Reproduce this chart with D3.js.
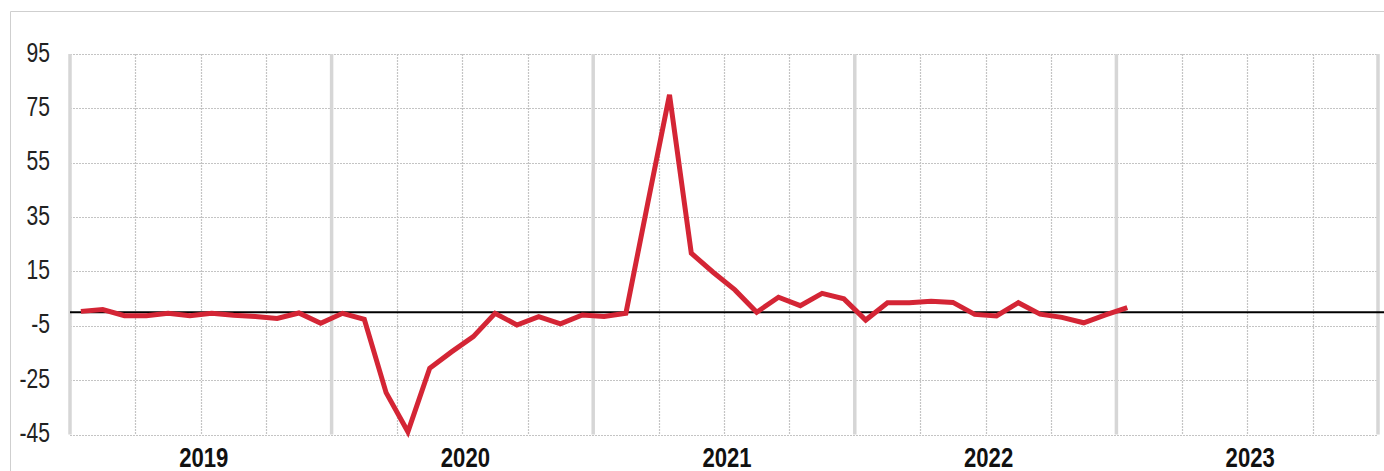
<!DOCTYPE html>
<html>
<head>
<meta charset="utf-8">
<script src="https://cdn.jsdelivr.net/npm/d3@7"></script>
<style>
  html, body { margin: 0; padding: 0; background: #fff; }
  svg { display: block; font-family: "Liberation Sans", Arial, sans-serif; }
</style>
</head>
<body>
<svg id="chart" width="1384" height="471"></svg>
<script>
// monthly observations, Jan 2019 .. Jan 2023
const months = [
  '2019-01', '2019-02', '2019-03', '2019-04', '2019-05', '2019-06',
  '2019-07', '2019-08', '2019-09', '2019-10', '2019-11', '2019-12',
  '2020-01', '2020-02', '2020-03', '2020-04', '2020-05', '2020-06',
  '2020-07', '2020-08', '2020-09', '2020-10', '2020-11', '2020-12',
  '2021-01', '2021-02', '2021-03', '2021-04', '2021-05', '2021-06',
  '2021-07', '2021-08', '2021-09', '2021-10', '2021-11', '2021-12',
  '2022-01', '2022-02', '2022-03', '2022-04', '2022-05', '2022-06',
  '2022-07', '2022-08', '2022-09', '2022-10', '2022-11', '2022-12',
  '2023-01',
];
const values = [
  0.3, 1.0, -1.3, -1.3, -0.4, -1.3, -0.4, -1.1, -1.6, -2.3, -0.3, -4.1,
  -0.4, -2.6, -29.6, -44, -20.6, -14.6, -9.0, -0.4, -4.7, -1.6, -4.3, -1.0,
  -1.6, -0.4, 40, 80, 21.7, 14.7, 8.2, 0, 5.5, 2.4, 6.9, 4.9,
  -2.9, 3.5, 3.5, 4.0, 3.6, -0.8, -1.4, 3.5, -0.7, -1.9, -3.9, -1.0,
  1.7,
];
const years = ['2019', '2020', '2021', '2022', '2023'];
const yTicks = [95, 75, 55, 35, 15, -5, -25, -45];

const W = 1384, H = 471;
const plot = { left: 70, right: 1378, top: 54, bottom: 434.5 };

const svg = d3.select('#chart');

// outer frame (only top and left edges are inside the picture)
svg.append('path')
  .attr('d', `M10.5,${H} V11.5 H${W}`)
  .attr('fill', 'none')
  .attr('stroke', '#cfcfcf')
  .attr('stroke-width', 1);

const monthIndex = (m) => {
  const [yr, mo] = m.split('-').map(Number);
  return (yr - +years[0]) * 12 + (mo - 1);
};

const x = d3.scaleLinear()
  .domain([0, years.length * 12])
  .range([plot.left, plot.right]);

const y = d3.scaleLinear()
  .domain([d3.min(yTicks), d3.max(yTicks)])
  .range([plot.bottom, plot.top]);

const grid = svg.append('g');

// horizontal grid
grid.selectAll('line.h')
  .data(yTicks)
  .join('line')
  .attr('class', 'h')
  .attr('x1', plot.left)
  .attr('x2', plot.right)
  .attr('y1', (d) => Math.round(y(d)) + 0.5)
  .attr('y2', (d) => Math.round(y(d)) + 0.5)
  .attr('stroke', '#c4c4c4')
  .attr('stroke-width', 1.2)
  .attr('stroke-dasharray', '2,1');

// quarter lines
const quarters = d3.range(0, years.length * 12 + 1, 3).filter((q) => q % 12 !== 0);
grid.selectAll('line.q')
  .data(quarters)
  .join('line')
  .attr('class', 'q')
  .attr('x1', (d) => Math.round(x(d)) + 0.5)
  .attr('x2', (d) => Math.round(x(d)) + 0.5)
  .attr('y1', plot.top)
  .attr('y2', plot.bottom)
  .attr('stroke', '#c4c4c4')
  .attr('stroke-width', 1.2)
  .attr('stroke-dasharray', '2,1');

// year separators
grid.selectAll('line.yr')
  .data(d3.range(0, years.length + 1))
  .join('line')
  .attr('class', 'yr')
  .attr('x1', (d) => x(d * 12))
  .attr('x2', (d) => x(d * 12))
  .attr('y1', plot.top)
  .attr('y2', plot.bottom)
  .attr('stroke', '#d6d6d6')
  .attr('stroke-width', 3.5);

// zero line
svg.append('line')
  .attr('x1', plot.left)
  .attr('x2', W)
  .attr('y1', y(0))
  .attr('y2', y(0))
  .attr('stroke', '#000')
  .attr('stroke-width', 2);

// series
const line = d3.line()
  .x((d) => x(monthIndex(d.m) + 0.5))
  .y((d) => y(d.v));

svg.append('path')
  .datum(months.map((m, i) => ({ m, v: values[i] })))
  .attr('d', line)
  .attr('fill', 'none')
  .attr('stroke', '#d42535')
  .attr('stroke-width', 5)
  .attr('stroke-linejoin', 'miter');

// y labels (condensed look via horizontal squeeze)
svg.append('g')
  .selectAll('text')
  .data(yTicks)
  .join('text')
  .attr('transform', (d) => `translate(50,${y(d) + 7.5}) scale(0.78,1)`)
  .attr('text-anchor', 'end')
  .attr('font-size', 27)
  .attr('fill', '#222')
  .text((d) => d);

// year labels
svg.append('g')
  .selectAll('text')
  .data(years)
  .join('text')
  .attr('transform', (d, i) => `translate(${x(i * 12 + 6) + 3},467) scale(0.82,1)`)
  .attr('text-anchor', 'middle')
  .attr('font-size', 27)
  .attr('font-weight', 'bold')
  .attr('fill', '#111')
  .text((d) => d);
</script>
</body>
</html>
